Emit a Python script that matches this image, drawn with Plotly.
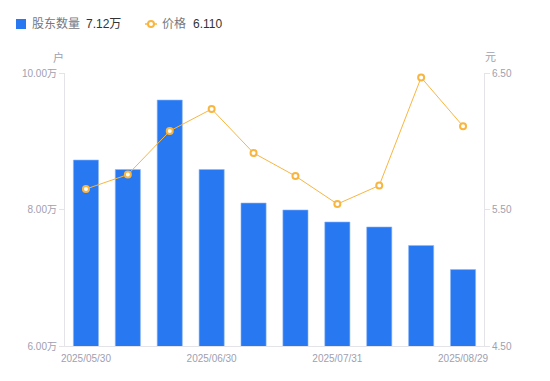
import plotly.graph_objects as go

dates = ["2025/05/30", "2025/06/10", "2025/06/20", "2025/06/30", "2025/07/10",
         "2025/07/20", "2025/07/31", "2025/08/10", "2025/08/20", "2025/08/29"]
holders = [87250, 85860, 96040, 85860, 80950, 79930, 78170, 77440, 74730, 71200]
prices = [5.65, 5.756, 6.075, 6.236, 5.914, 5.745, 5.54, 5.676, 6.467, 6.110]
shown_ticks = ["2025/05/30", "2025/06/30", "2025/07/31", "2025/08/29"]
left_ticks = [60000, 80000, 100000]
left_labels = ["6.00万", "8.00万", "10.00万"]
right_ticks = [4.5, 5.5, 6.5]
right_labels = ["4.50", "5.50", "6.50"]

FONT = "Liberation Sans, Noto Sans CJK SC, sans-serif"
BLUE = "#2878f2"
ORANGE = "#f8b640"
AXC = "#e3e3e8"
TICKC = "#a0a0b0"

# page body has an 8px default margin; size the figure to fit the window
OFF = 8
W, H = 550 - OFF, 381 - OFF
l, t = 65 - OFF, 73 - OFF
r = W - (484 - OFF)
b = H - (346 - OFF)
pw, ph = W - l - r, H - t - b

def px(x):
    return (x - OFF - l) / pw

def py(y):
    return (H - b - (y - OFF)) / ph

fig = go.Figure()
fig.add_trace(go.Bar(x=dates, y=holders, name="股东数量",
                     marker=dict(color=BLUE, line=dict(color="#8fb8f8", width=0.6)),
                     width=0.6, yaxis="y"))
fig.add_trace(go.Scatter(x=dates, y=prices, name="价格", mode="lines+markers", yaxis="y2",
                         line=dict(color=ORANGE, width=1),
                         marker=dict(symbol="circle", size=6, color="white",
                                     line=dict(color=ORANGE, width=2))))

fig.update_layout(
    width=W, height=H,
    margin=dict(l=l, r=r, t=t, b=b, autoexpand=False),
    paper_bgcolor="white", plot_bgcolor="white",
    showlegend=False,
    font=dict(family=FONT, size=10, color=TICKC),
    xaxis=dict(type="category", categoryorder="array", categoryarray=dates,
               tickmode="array", tickvals=shown_ticks, ticktext=shown_ticks,
               showline=True, linecolor=AXC, linewidth=1,
               ticks="outside", ticklen=3, tickcolor="rgba(0,0,0,0)", showgrid=False,
               tickfont=dict(size=10, color=TICKC), range=[-0.5, 9.5]),
    yaxis=dict(range=[60000, 100000], tickmode="array", tickvals=left_ticks, ticktext=left_labels,
               showline=True, linecolor=AXC, linewidth=1, ticks="outside", ticklen=5, tickcolor=AXC,
               showgrid=False, zeroline=False, tickfont=dict(size=10, color=TICKC)),
    yaxis2=dict(range=[4.5, 6.5], overlaying="y", side="right", tickmode="array",
                tickvals=right_ticks, ticktext=right_labels,
                showline=True, linecolor=AXC, linewidth=1, ticks="outside", ticklen=5, tickcolor=AXC,
                showgrid=False, zeroline=False, tickfont=dict(size=10, color=TICKC)),
)

def label(text, x, y, size, color, xanchor="center"):
    fig.add_annotation(text=text, x=px(x), y=py(y), xref="paper", yref="paper",
                       xanchor=xanchor, yanchor="middle", showarrow=False,
                       font=dict(size=size, color=color))

# axis unit titles
label("户", 58, 57, 11, TICKC)
label("元", 490, 57, 11, TICKC)

# custom legend
fig.add_shape(type="rect", xref="paper", yref="paper", x0=px(16), x1=px(26), y0=py(29), y1=py(19),
              fillcolor=BLUE, line=dict(width=0))
label("股东数量", 30, 24, 12, "#777780", "left")
label("7.12万", 84, 24, 12, "#333333", "left")
fig.add_shape(type="line", xref="paper", yref="paper", x0=px(145), x1=px(157), y0=py(24), y1=py(24),
              line=dict(color=ORANGE, width=1.5))
fig.add_shape(type="circle", xref="paper", yref="paper", x0=px(148), x1=px(154), y0=py(27), y1=py(21),
              fillcolor="white", line=dict(color=ORANGE, width=2))
label("价格", 160, 24, 12, "#777780", "left")
label("6.110", 191, 24, 12, "#333333", "left")

fig.write_html("out.html")
